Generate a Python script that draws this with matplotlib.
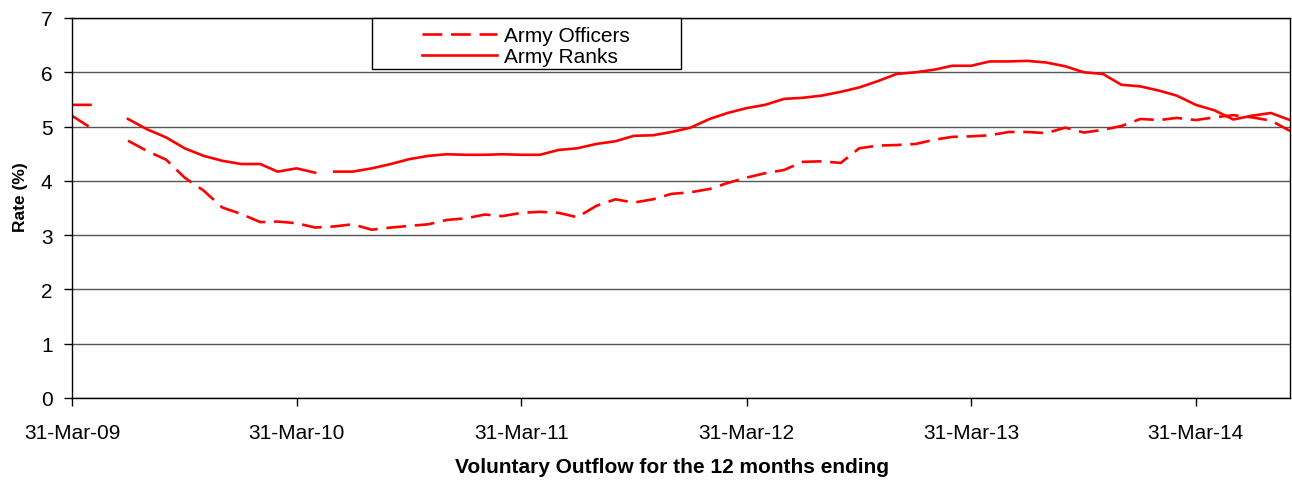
import numpy as np
import pandas as pd
import matplotlib
matplotlib.use("Agg")
import matplotlib.pyplot as plt
import matplotlib.dates as mdates
from matplotlib.patches import Rectangle

plt.rcParams['font.family'] = ['Liberation Sans', 'DejaVu Sans']

months = pd.date_range('2009-03-31', '2014-08-31', freq='ME')

army_officers = [
    5.20, 4.98, np.nan, 4.74, 4.55, 4.39, 4.06, 3.82, 3.51, 3.39,
    3.24, 3.25, 3.22, 3.14, 3.16, 3.20, 3.10, 3.14, 3.17, 3.20, 3.28, 3.31,
    3.38, 3.35, 3.41, 3.43, 3.41, 3.33, 3.54, 3.66, 3.60, 3.66, 3.76, 3.79,
    3.85, 3.96, 4.06, 4.14, 4.20, 4.35, 4.36, 4.33, 4.60, 4.65, 4.66, 4.68,
    4.76, 4.81, 4.82, 4.84, 4.90, 4.90, 4.88, 4.98, 4.89, 4.94, 5.01, 5.14,
    5.12, 5.16, 5.12, 5.17, 5.21, 5.17, 5.11, 4.92,
]

army_ranks = [
    5.40, 5.40, np.nan, 5.14, 4.95, 4.80, 4.60, 4.46, 4.37, 4.31,
    4.31, 4.17, 4.23, 4.15, 4.17, 4.17, 4.23, 4.31, 4.40, 4.46, 4.49, 4.48,
    4.48, 4.49, 4.48, 4.48, 4.57, 4.60, 4.68, 4.73, 4.83, 4.84, 4.90, 4.98,
    5.14, 5.25, 5.34, 5.40, 5.51, 5.53, 5.57, 5.64, 5.72, 5.84, 5.97, 6.00,
    6.05, 6.12, 6.12, 6.20, 6.20, 6.21, 6.18, 6.11, 6.00, 5.97, 5.77, 5.74,
    5.66, 5.57, 5.40, 5.30, 5.13, 5.20, 5.25, 5.12,
]
# the Ranks line is also broken between these two months in the source
ranks_break_after = ['2010-04-30']

tick_dates = pd.to_datetime(['2009-03-31', '2010-03-31', '2011-03-31',
                             '2012-03-31', '2013-03-31', '2014-03-31'])
y_ticks = [0, 1, 2, 3, 4, 5, 6, 7]

W, H = 1292, 481
fig = plt.figure(figsize=(W / 100, H / 100), dpi=100)
ax = fig.add_axes([72 / W, 1 - 399 / H, (1290 - 72) / W, (399 - 19) / H])

red = '#FF0000'
lw = 1.9
(l1,) = ax.plot(months, army_officers, color=red, lw=lw, linestyle=(0, (7.5, 3.3)),
                label='Army Officers', dash_capstyle='butt')

r = pd.Series(army_ranks, index=months)
cuts = [months.get_loc(pd.Timestamp(d)) + 1 for d in ranks_break_after]
bounds = [0] + cuts + [len(months)]
ranks_handle = None
for i in range(len(bounds) - 1):
    seg = r.iloc[bounds[i]:bounds[i + 1]]
    (ln,) = ax.plot(seg.index, seg.values, color=red, lw=lw, linestyle='-')
    if ranks_handle is None:
        ranks_handle = ln
ranks_handle.set_label('Army Ranks')

ax.set_xlim(months[0], months[-1])
ax.set_ylim(0, 7)
ax.set_yticks(y_ticks)
ax.set_xticks(tick_dates)
ax.xaxis.set_major_formatter(mdates.DateFormatter('%d-%b-%y'))
ax.tick_params(axis='both', labelsize=15, direction='out', length=6, width=1, color='black')
ax.tick_params(axis='x', pad=12)
ax.tick_params(axis='y', pad=8)

ax.grid(axis='y', color='#555555', linewidth=1)
ax.set_axisbelow(True)
for s in ax.spines.values():
    s.set_color('black')
    s.set_linewidth(1)

ax.set_ylabel('Rate (%)', fontsize=12.5, fontweight='bold')
ax.yaxis.set_label_coords((28 - 72) / 1218, (399 - 197) / 380)
ax.set_xlabel('Voluntary Outflow for the 12 months ending', fontsize=15,
              fontweight='bold')
ax.xaxis.set_label_coords((672 - 72) / 1218, (399 - 458) / 380)

# legend box
x0 = (372 - 72) / 1218
x1 = (681 - 72) / 1218
yb = (399 - 70) / 380
box = Rectangle((x0, yb), x1 - x0, 1 - yb, transform=ax.transAxes, facecolor='white',
                edgecolor='black', linewidth=1, zorder=4, clip_on=False)
ax.add_patch(box)
leg = ax.legend(handles=[l1, ranks_handle], loc='upper left',
                bbox_to_anchor=((422 - 72) / 1218, (399 - 27) / 380),
                borderaxespad=0, borderpad=0, fontsize=15, frameon=False,
                handlelength=3.6, handletextpad=0.33, labelspacing=0.1)
leg.set_zorder(5)

fig.savefig('out.png', dpi=100)
